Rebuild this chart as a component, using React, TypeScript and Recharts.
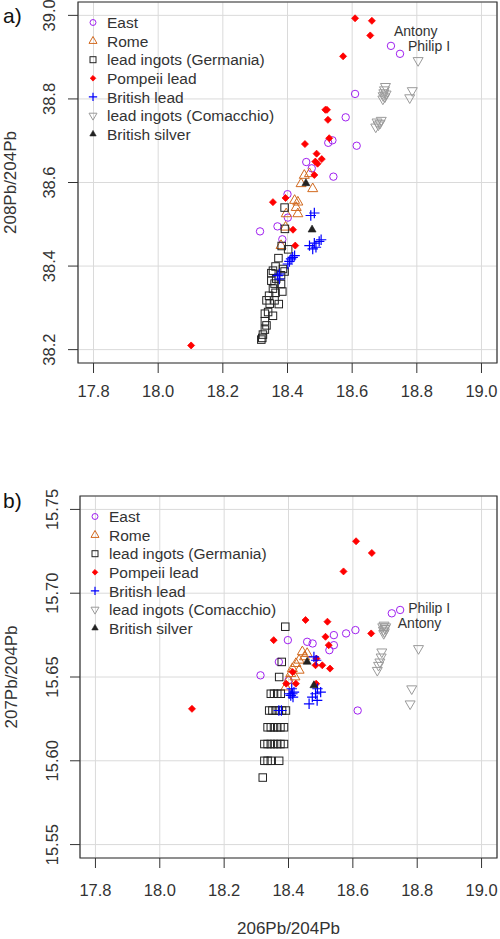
import React from 'react';
import {
  ScatterChart,
  Scatter,
  XAxis,
  YAxis,
  CartesianGrid,
  ReferenceArea,
  Legend,
} from 'recharts';

type P = [number, number, string?];

// ---------- axes ----------
const xTicks = [17.8, 18.0, 18.2, 18.4, 18.6, 18.8, 19.0];
const y208Ticks = [38.2, 38.4, 38.6, 38.8, 39.0];
const y207Ticks = [15.55, 15.6, 15.65, 15.7, 15.75];
const X_DOMAIN: [number, number] = [17.752, 19.048];
const Y208_DOMAIN: [number, number] = [38.168, 39.032];
const Y207_DOMAIN: [number, number] = [15.542, 15.758];

const seriesNames = [
  'East',
  'Rome',
  'lead ingots (Germania)',
  'Pompeii lead',
  'British lead',
  'lead ingots (Comacchio)',
  'British silver',
];

// ---------- panel a: 208Pb/204Pb vs 206Pb/204Pb ----------
const east208: P[] = [
  [18.72, 38.927, 'Antony'],
  [18.748, 38.908, 'Philip I'],
  [18.609, 38.812],
  [18.58, 38.756],
  [18.539, 38.701],
  [18.526, 38.695],
  [18.614, 38.688],
  [18.458, 38.649],
  [18.475, 38.634],
  [18.542, 38.614],
  [18.4, 38.572],
  [18.401, 38.516],
  [18.315, 38.483],
  [18.369, 38.495],
  [18.384, 38.464],
];
const rome208: P[] = [
  [18.452, 38.617], [18.468, 38.621], [18.442, 38.597], [18.478, 38.585],
  [18.422, 38.557], [18.432, 38.553], [18.427, 38.54], [18.432, 38.525],
  [18.396, 38.525], [18.394, 38.493], [18.38, 38.449],
];
const germania208: P[] = [
  [18.391, 38.54], [18.392, 38.489], [18.382, 38.448], [18.402, 38.44],
  [18.372, 38.419], [18.363, 38.399], [18.386, 38.393], [18.355, 38.389],
  [18.391, 38.387], [18.35, 38.383], [18.38, 38.378], [18.365, 38.37],
  [18.35, 38.365], [18.36, 38.358], [18.38, 38.357], [18.355, 38.346],
  [18.384, 38.339], [18.363, 38.336], [18.343, 38.329], [18.335, 38.318],
  [18.36, 38.318], [18.373, 38.309], [18.345, 38.31], [18.34, 38.29],
  [18.355, 38.281], [18.33, 38.286], [18.33, 38.268], [18.335, 38.258],
  [18.33, 38.248], [18.324, 38.236], [18.322, 38.228], [18.319, 38.224],
];
const pompeii208: P[] = [
  [18.609, 38.993], [18.661, 38.987], [18.656, 38.952], [18.572, 38.902],
  [18.517, 38.774], [18.522, 38.774], [18.525, 38.75], [18.529, 38.706],
  [18.454, 38.692], [18.49, 38.669], [18.486, 38.65], [18.493, 38.645],
  [18.506, 38.656], [18.483, 38.618], [18.394, 38.563], [18.355, 38.553],
  [18.417, 38.487], [18.424, 38.449], [18.102, 38.21],
];
const britishLead208: P[] = [
  [18.472, 38.521], [18.483, 38.527], [18.504, 38.463], [18.498, 38.459],
  [18.483, 38.455], [18.468, 38.449], [18.488, 38.445], [18.478, 38.441],
  [18.416, 38.421], [18.422, 38.425], [18.411, 38.417], [18.406, 38.411],
  [18.401, 38.405], [18.375, 38.381], [18.37, 38.377], [18.375, 38.369],
];
const comacchio208: P[] = [
  [18.804, 38.892], [18.703, 38.83], [18.7, 38.822], [18.698, 38.815],
  [18.696, 38.808], [18.701, 38.805], [18.695, 38.8], [18.705, 38.812],
  [18.786, 38.82], [18.778, 38.803], [18.69, 38.749], [18.686, 38.742],
  [18.681, 38.738], [18.673, 38.733], [18.677, 38.745],
];
const silver208: P[] = [[18.457, 38.598], [18.476, 38.487]];

// ---------- panel b: 207Pb/204Pb vs 206Pb/204Pb ----------
const east207: P[] = [
  [18.721, 15.688, 'Antony'],
  [18.747, 15.69, 'Philip I'],
  [18.608, 15.678],
  [18.579, 15.676],
  [18.541, 15.675],
  [18.541, 15.669],
  [18.527, 15.666],
  [18.458, 15.671],
  [18.475, 15.67],
  [18.398, 15.672],
  [18.37, 15.659],
  [18.313, 15.651],
  [18.615, 15.63],
  [18.4, 15.648],
];
const rome207: P[] = [
  [18.443, 15.665], [18.458, 15.664], [18.45, 15.662], [18.433, 15.66],
  [18.423, 15.658], [18.412, 15.655], [18.407, 15.652], [18.433, 15.654],
  [18.392, 15.644], [18.4, 15.648], [18.42, 15.65],
];
const germania207: P[] = [
  [18.39, 15.68], [18.379, 15.659], [18.371, 15.65],
  [18.345, 15.64], [18.355, 15.64], [18.365, 15.64], [18.376, 15.64],
  [18.34, 15.63], [18.35, 15.63], [18.36, 15.63], [18.37, 15.63], [18.38, 15.63], [18.392, 15.63],
  [18.335, 15.62], [18.345, 15.62], [18.355, 15.62], [18.365, 15.62], [18.375, 15.62], [18.386, 15.62],
  [18.325, 15.61], [18.335, 15.61], [18.345, 15.61], [18.355, 15.61], [18.365, 15.61], [18.375, 15.61], [18.386, 15.61],
  [18.325, 15.6], [18.335, 15.6], [18.345, 15.6], [18.371, 15.6],
  [18.32, 15.59],
];
const pompeii207: P[] = [
  [18.61, 15.731], [18.659, 15.724], [18.571, 15.713], [18.521, 15.683],
  [18.453, 15.684], [18.657, 15.676], [18.515, 15.674], [18.525, 15.669],
  [18.354, 15.672], [18.487, 15.661], [18.484, 15.657], [18.505, 15.657],
  [18.529, 15.655], [18.413, 15.653], [18.423, 15.646], [18.393, 15.646],
  [18.486, 15.646], [18.1, 15.631],
];
const britishLead207: P[] = [
  [18.479, 15.662], [18.486, 15.66], [18.412, 15.64], [18.407, 15.639],
  [18.417, 15.641], [18.402, 15.64], [18.41, 15.643], [18.484, 15.64],
  [18.5, 15.641], [18.489, 15.636], [18.474, 15.638], [18.464, 15.634],
  [18.37, 15.63], [18.378, 15.63], [18.49, 15.643], [18.414, 15.638],
];
const comacchio207: P[] = [
  [18.804, 15.667], [18.697, 15.681], [18.7, 15.679], [18.695, 15.678],
  [18.693, 15.68], [18.698, 15.677], [18.702, 15.68], [18.696, 15.676],
  [18.69, 15.665], [18.688, 15.662], [18.684, 15.659], [18.68, 15.657],
  [18.676, 15.654], [18.783, 15.643], [18.778, 15.634],
];
const silver207: P[] = [[18.458, 15.659], [18.479, 15.645]];

// ---------- styling ----------
const PURPLE = '#a020f0';
const ORANGE = '#d2691e';
const BLACK = '#222222';
const RED = '#ff0000';
const BLUE = '#0000ff';
const GREY = '#9a9a9a';
const TEXT = '#333333';
const FONT = '"Liberation Sans", Arial, Helvetica, sans-serif';

const LABEL_OFFSETS: Record<string, Record<string, [number, number]>> = {
  a: { Antony: [3, -10], 'Philip I': [8, -3] },
  b: { Antony: [6, 15], 'Philip I': [8, 3] },
};

function Marker({ kind, cx, cy, s = 1 }: { kind: string; cx: number; cy: number; s?: number }) {
  switch (kind) {
    case 'East':
      return <circle cx={cx} cy={cy} r={3.7 * s} fill="none" stroke={PURPLE} strokeWidth={1} />;
    case 'Rome': {
      const a = 10 * s;
      const h = (a * Math.sqrt(3)) / 2;
      return (
        <polygon
          points={`${cx},${cy - (2 * h) / 3} ${cx - a / 2},${cy + h / 3} ${cx + a / 2},${cy + h / 3}`}
          fill="none"
          stroke={ORANGE}
          strokeWidth={1}
        />
      );
    }
    case 'lead ingots (Germania)': {
      const a = 7.5 * s;
      return <rect x={cx - a / 2} y={cy - a / 2} width={a} height={a} fill="none" stroke={BLACK} strokeWidth={1} />;
    }
    case 'Pompeii lead': {
      const d = 3.5 * s;
      return (
        <polygon
          points={`${cx},${cy - d} ${cx + d},${cy} ${cx},${cy + d} ${cx - d},${cy}`}
          fill={RED}
          stroke={RED}
          strokeWidth={0.8}
        />
      );
    }
    case 'British lead': {
      const d = 5.2 * s;
      return (
        <path d={`M${cx - d},${cy}H${cx + d}M${cx},${cy - d}V${cy + d}`} stroke={BLUE} strokeWidth={1.2} fill="none" />
      );
    }
    case 'lead ingots (Comacchio)': {
      const a = 10 * s;
      const h = (a * Math.sqrt(3)) / 2;
      return (
        <polygon
          points={`${cx},${cy + (2 * h) / 3} ${cx - a / 2},${cy - h / 3} ${cx + a / 2},${cy - h / 3}`}
          fill="none"
          stroke={GREY}
          strokeWidth={1}
        />
      );
    }
    case 'British silver': {
      const a = 8 * s;
      const h = (a * Math.sqrt(3)) / 2;
      return (
        <polygon
          points={`${cx},${cy - (2 * h) / 3} ${cx - a / 2},${cy + h / 3} ${cx + a / 2},${cy + h / 3}`}
          fill={BLACK}
          stroke={BLACK}
          strokeWidth={0.6}
        />
      );
    }
    default:
      return null;
  }
}

const makeShape = (kind: string, panel: string) => (props: any) => {
  const { cx, cy, payload } = props;
  const label = payload && payload.label;
  const off = label ? LABEL_OFFSETS[panel][label] : null;
  return (
    <g>
      <Marker kind={kind} cx={cx} cy={cy} />
      {label && off ? (
        <text x={cx + off[0]} y={cy + off[1]} fontSize={14} fill={TEXT} fontFamily={FONT}>
          {label}
        </text>
      ) : null}
    </g>
  );
};

// legend keeps the plotting (series) order
const renderLegend = (props: any) => {
  const present: string[] =
    props && props.payload && props.payload.length ? props.payload.map((p: any) => p.value) : seriesNames;
  const names = seriesNames.filter((n) => present.includes(n));
  return (
    <svg width={200} height={136} style={{ display: 'block', overflow: 'visible' }}>
      {names.map((n, i) => {
        const cy = 10.5 + i * 18.6;
        return (
          <g key={n}>
            <Marker kind={n} cx={9} cy={cy} s={0.8} />
            <text x={23} y={cy + 5.6} fontSize={15.5} fill={TEXT} fontFamily={FONT}>
              {n}
            </text>
          </g>
        );
      })}
    </svg>
  );
};

const yTick = (digits: number) => (props: any) => {
  const { x, y, payload } = props;
  return (
    <text
      x={x}
      y={y}
      transform={`rotate(-90 ${x} ${y})`}
      textAnchor="middle"
      fontSize={16.5}
      fill={TEXT}
      fontFamily={FONT}
    >
      {Number(payload.value).toFixed(digits)}
    </text>
  );
};

const yTitle = (text: string, baselineX: number) => (props: any) => {
  const vb = props && props.viewBox ? props.viewBox : { y: 0, height: 0 };
  const cy = vb.y + vb.height / 2;
  return (
    <text
      x={0}
      y={0}
      transform={`translate(${baselineX}, ${cy}) rotate(-90)`}
      textAnchor="middle"
      fontSize={17}
      fill={TEXT}
      fontFamily={FONT}
    >
      {text}
    </text>
  );
};

const xTitle = (text: string) => (props: any) => {
  const vb = props && props.viewBox ? props.viewBox : { x: 0, y: 0, width: 0, height: 0 };
  return (
    <text
      x={vb.x + vb.width / 2}
      y={vb.y + vb.height - 5}
      textAnchor="middle"
      fontSize={17}
      fill={TEXT}
      fontFamily={FONT}
    >
      {text}
    </text>
  );
};

const toPts = (arr: P[]) => arr.map(([x, y, label]) => ({ x, y, label }));

type PanelProps = {
  panel: string;
  height: number;
  margin: { top: number; right: number; bottom: number; left: number };
  yDomain: [number, number];
  yTicks: number[];
  yDigits: number;
  yAxisWidth: number;
  yTickMargin: number;
  yTitleText: string;
  yTitleX: number;
  xAxisHeight: number;
  xTickMargin: number;
  xTitleText?: string;
  legendPos: { left: number; top: number };
  series: P[][];
};

function Panel(p: PanelProps) {
  return (
    <ScatterChart width={500} height={p.height} margin={p.margin}>
      <CartesianGrid stroke="#dadada" strokeWidth={1} />
      <XAxis
        type="number"
        dataKey="x"
        domain={X_DOMAIN}
        ticks={xTicks}
        allowDataOverflow
        axisLine={false}
        tickLine={{ stroke: '#333', strokeWidth: 1 }}
        tickSize={10}
        tickMargin={p.xTickMargin}
        height={p.xAxisHeight}
        tick={{ fill: TEXT, fontSize: 16.5, fontFamily: FONT }}
        tickFormatter={(v: number) => v.toFixed(1)}
        interval={0}
        label={p.xTitleText ? { content: xTitle(p.xTitleText) } : undefined}
      />
      <YAxis
        type="number"
        dataKey="y"
        domain={p.yDomain}
        ticks={p.yTicks}
        allowDataOverflow
        axisLine={false}
        tickLine={{ stroke: '#333', strokeWidth: 1 }}
        tickSize={10}
        tickMargin={p.yTickMargin}
        width={p.yAxisWidth}
        tick={yTick(p.yDigits)}
        interval={0}
        label={{ content: yTitle(p.yTitleText, p.yTitleX) }}
      />
      <ReferenceArea
        x1={X_DOMAIN[0]}
        x2={X_DOMAIN[1]}
        y1={p.yDomain[0]}
        y2={p.yDomain[1]}
        fill="none"
        fillOpacity={0}
        stroke="#333"
        strokeWidth={1.2}
        ifOverflow="visible"
      />
      {seriesNames.map((name, i) => (
        <Scatter
          key={name}
          name={name}
          data={toPts(p.series[i])}
          fill="#000"
          isAnimationActive={false}
          shape={makeShape(name, p.panel)}
        />
      ))}
      <Legend
        layout="vertical"
        align="center"
        verticalAlign="middle"
        content={renderLegend}
        wrapperStyle={{ left: p.legendPos.left, top: p.legendPos.top, width: 200, height: 136 }}
      />
    </ScatterChart>
  );
}

export default function App() {
  return (
    <div
      style={{
        position: 'absolute',
        left: 0,
        top: 0,
        width: 500,
        height: 939,
        background: '#fff',
        fontFamily: FONT,
        overflow: 'hidden',
      }}
    >
      <div style={{ position: 'absolute', left: 0, top: 0 }}>
        <Panel
          panel="a"
          height={470}
          margin={{ top: 2, right: 3, bottom: 57, left: 0 }}
          yDomain={Y208_DOMAIN}
          yTicks={y208Ticks}
          yDigits={1}
          yAxisWidth={78}
          yTickMargin={13}
          yTitleText="208Pb/204Pb"
          yTitleX={15.5}
          xAxisHeight={50}
          xTickMargin={12}
          legendPos={{ left: 84, top: 12 }}
          series={[east208, rome208, germania208, pompeii208, britishLead208, comacchio208, silver208]}
        />
      </div>
      <div style={{ position: 'absolute', left: 0, top: 470 }}>
        <Panel
          panel="b"
          height={469}
          margin={{ top: 26, right: 3, bottom: 0, left: 0 }}
          yDomain={Y207_DOMAIN}
          yTicks={y207Ticks}
          yDigits={2}
          yAxisWidth={80}
          yTickMargin={12}
          yTitleText="207Pb/204Pb"
          yTitleX={17}
          xAxisHeight={81}
          xTickMargin={16}
          xTitleText="206Pb/204Pb"
          legendPos={{ left: 86, top: 36 }}
          series={[east207, rome207, germania207, pompeii207, britishLead207, comacchio207, silver207]}
        />
      </div>
      <svg
        width={500}
        height={939}
        style={{ position: 'absolute', left: 0, top: 0, pointerEvents: 'none' }}
      >
        <text x={3} y={23} fontSize={21} fill="#111" fontFamily={FONT}>
          a)
        </text>
        <text x={3} y={507.5} fontSize={21} fill="#111" fontFamily={FONT}>
          b)
        </text>
      </svg>
    </div>
  );
}
